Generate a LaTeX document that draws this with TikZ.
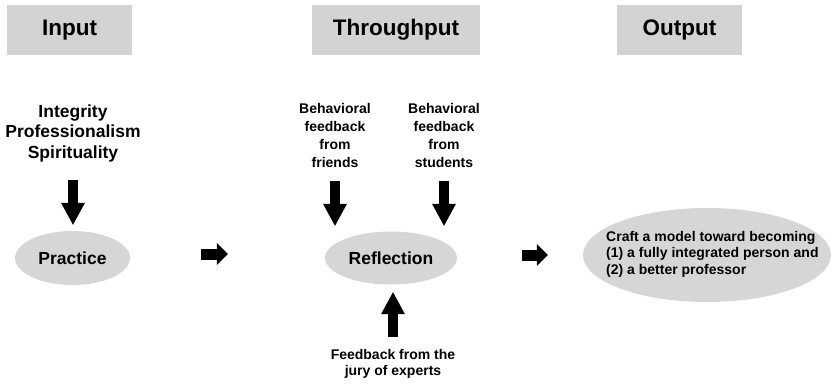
\documentclass[tikz,border=0pt]{standalone}
\usepackage{fontspec}
\setmainfont{Liberation Sans}
\usetikzlibrary{shapes.geometric,arrows.meta}
\definecolor{boxgray}{RGB}{211,211,211}
\definecolor{ovalgray}{RGB}{214,214,214}
\begin{document}
\begin{tikzpicture}[x=1pt,y=-1pt,
  hdr/.style={rectangle, fill=boxgray, minimum height=50pt, inner sep=0pt,
    font=\fontsize{22.5}{27}\selectfont\bfseries},
  oval/.style={ellipse, fill=ovalgray, inner sep=0pt,
    font=\fontsize{17.5}{21}\selectfont\bfseries},
  bigtext/.style={align=center, inner sep=0pt, anchor=base,
    font=\fontsize{17.5}{20.5}\selectfont\bfseries},
  smalltext/.style={align=center, inner sep=0pt, anchor=base,
    font=\fontsize{14}{18}\selectfont\bfseries},
  vblock/.style={line width=10pt,
    -{Triangle[length=22pt,width=24pt,line width'=0pt]}},
  hblock/.style={line width=11pt,
    -{Triangle[length=11pt,width=22pt,line width'=0pt]}},
]
\path[use as bounding box] (0,0) rectangle (832,383);

% column headers
\node[hdr, minimum width=125pt] (inhdr)  at (69.5,30)  {Input};
\node[hdr, minimum width=168pt] (thrhdr) at (396,30)   {Throughput};
\node[hdr, minimum width=125pt] (outhdr) at (679.5,30) {Output};

% input column (base anchor = baseline of the last line)
\node[bigtext] (vals) at (73,158) {Integrity\\Professionalism\\Spirituality};
\node[oval, minimum width=115pt, minimum height=54pt] (prac) at (72.5,258) {Practice};

% throughput column
\node[smalltext] (friends)  at (335,167) {Behavioral\\feedback\\from\\friends};
\node[smalltext] (students) at (444,167) {Behavioral\\feedback\\from\\students};
\node[oval, minimum width=132pt, minimum height=53pt] (refl) at (391,258) {Reflection};
\node[smalltext, font=\fontsize{14}{16}\selectfont\bfseries] (jury) at (393,375)
  {Feedback from the\\jury of experts};

% output column
\node[ellipse, fill=ovalgray, inner sep=0pt, minimum width=248pt, minimum height=94pt]
  (outc) at (707,255) {};
\node[align=left, inner sep=0pt, anchor=base west,
  font=\fontsize{14}{16.5}\selectfont\bfseries] (outtext) at (606,274)
  {Craft a model toward becoming\\(1) a fully integrated person and\\(2) a better professor};

% block arrows
\draw[vblock, shorten <=18pt, shorten >=6pt] (vals.south) -- (vals.south |- prac.north);
\draw[vblock, shorten <=14pt, shorten >=5.5pt] (friends.south) -- (friends.south |- refl.north);
\draw[vblock, shorten <=14pt, shorten >=5.5pt] (students.south) -- (students.south |- refl.north);
\draw[vblock, shorten <=11.5pt, shorten >=7.5pt] (jury.north) -- (jury.north |- refl.south);
\draw[hblock, shorten <=71pt, shorten >=97pt] ([yshift=4pt]prac.east) -- ([yshift=4pt]refl.west);
\draw[hblock, shorten <=65pt, shorten >=35pt] ([yshift=3pt]refl.east) -- (outc.west);
\end{tikzpicture}
\end{document}
